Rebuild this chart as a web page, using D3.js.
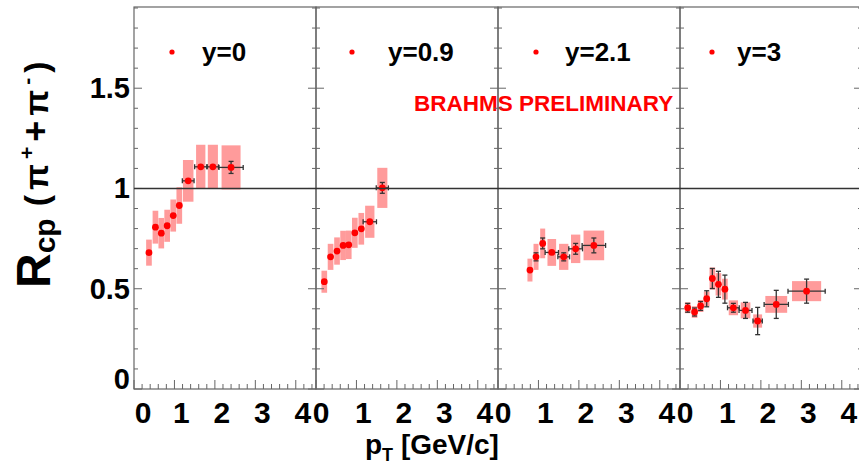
<!DOCTYPE html>
<html><head><meta charset="utf-8">
<script src="https://cdn.jsdelivr.net/npm/d3@7"></script>
<style>
body{margin:0;background:#fff}
svg{display:block}
text{font-family:"Liberation Sans",Arial,Helvetica,sans-serif;font-weight:bold}
</style>
</head><body>
<svg id="chart" width="859" height="466"></svg>
<script>
// ---------------- data ----------------
const panelLabels = ["y=0", "y=0.9", "y=2.1", "y=3"];
const xTickValues = [0, 1, 2, 3, 4];
const xTickLabels = ["0", "1", "2", "3", "4"];
const yTickValues = [0, 0.5, 1, 1.5];
const yTickLabels = ["0", "0.5", "1", "1.5"];

// y = 0
const pt_y0     = [0.37, 0.53, 0.675, 0.82, 0.97, 1.12, 1.34, 1.65, 1.95, 2.40];
const rcp_y0    = [0.680, 0.807, 0.777, 0.814, 0.865, 0.915, 1.038, 1.108, 1.108, 1.105];
const stat_y0   = [0.010, 0.010, 0.010, 0.010, 0.010, 0.010, 0.012, 0.015, 0.017, 0.030];
const ptErr_y0  = [0, 0, 0, 0, 0, 0, 0.145, 0.15, 0.14, 0.30];
const sys_y0    = [0.065, 0.082, 0.076, 0.080, 0.080, 0.091, 0.104, 0.110, 0.110, 0.110];
const sysW_y0   = [0.07, 0.07, 0.07, 0.07, 0.07, 0.07, 0.13, 0.115, 0.125, 0.235];

// y = 0.9
const pt_y09    = [0.205, 0.36, 0.52, 0.67, 0.81, 0.96, 1.12, 1.33, 1.64];
const rcp_y09   = [0.535, 0.659, 0.688, 0.716, 0.719, 0.779, 0.799, 0.834, 1.003];
const stat_y09  = [0.010, 0.010, 0.010, 0.010, 0.010, 0.010, 0.010, 0.012, 0.027];
const ptErr_y09 = [0, 0, 0, 0, 0, 0, 0, 0.165, 0.15];
const sys_y09   = [0.055, 0.065, 0.068, 0.073, 0.071, 0.075, 0.079, 0.080, 0.100];
const sysW_y09  = [0.07, 0.07, 0.07, 0.07, 0.07, 0.07, 0.07, 0.115, 0.125];

// y = 2.1
const pt_y21    = [0.79, 0.94, 1.105, 1.33, 1.625, 1.92, 2.37];
const rcp_y21   = [0.593, 0.659, 0.726, 0.681, 0.659, 0.699, 0.716];
const stat_y21  = [0.012, 0.020, 0.027, 0.012, 0.020, 0.027, 0.037];
const ptErr_y21 = [0, 0, 0, 0.165, 0.145, 0.17, 0.29];
const sys_y21   = [0.057, 0.065, 0.074, 0.067, 0.065, 0.071, 0.074];
const sysW_y21  = [0.062, 0.062, 0.062, 0.107, 0.115, 0.115, 0.255];

// y = 3
const pt_y3     = [0.19, 0.36, 0.51, 0.66, 0.80, 0.95, 1.11, 1.32, 1.62, 1.92, 2.38, 3.13];
const rcp_y3    = [0.405, 0.384, 0.414, 0.450, 0.551, 0.522, 0.498, 0.405, 0.392, 0.339, 0.422, 0.488];
const stat_y3   = [0.022, 0.020, 0.022, 0.040, 0.050, 0.065, 0.070, 0.022, 0.040, 0.068, 0.070, 0.060];
const ptErr_y3  = [0, 0, 0, 0, 0, 0, 0, 0.145, 0.16, 0.115, 0.30, 0.46];
const sys_y3    = [0.027, 0.029, 0.030, 0.036, 0.055, 0.056, 0.052, 0.037, 0.040, 0.033, 0.042, 0.050];
const sysW_y3   = [0.07, 0.07, 0.07, 0.07, 0.07, 0.07, 0.07, 0.115, 0.12, 0.11, 0.27, 0.36];

const series = [
  {pt: pt_y0,  v: rcp_y0,  s: stat_y0,  ex: ptErr_y0,  sys: sys_y0,  sw: sysW_y0},
  {pt: pt_y09, v: rcp_y09, s: stat_y09, ex: ptErr_y09, sys: sys_y09, sw: sysW_y09},
  {pt: pt_y21, v: rcp_y21, s: stat_y21, ex: ptErr_y21, sys: sys_y21, sw: sysW_y21},
  {pt: pt_y3,  v: rcp_y3,  s: stat_y3,  ex: ptErr_y3,  sys: sys_y3,  sw: sysW_y3}
];

// ---------------- layout ----------------
const svg = d3.select("#chart");
const left0 = 134, panelW = 182, topY = 7, botY = 389;
const yScale = d3.scaleLinear().domain([0, 1.9]).range([botY, 8]);
const legendDotX = [38, 36, 38, 32];
const legendTextX = [68, 72, 67, 57];
const frameColor = "#666";
const errColor = "#333";

const panelsG = svg.append("g");
const xScales = panelLabels.map((_, i) =>
  d3.scaleLinear().domain([0, 4.5]).range([left0 + i * panelW, left0 + (i + 1) * panelW]));

// data marks
series.forEach((d, i) => {
  const x = xScales[i];
  const g = panelsG.append("g");
  const idx = d3.range(d.pt.length);
  // systematic boxes
  g.selectAll("rect.sys").data(idx).join("rect")
    .attr("x", k => x(d.pt[k] - d.sw[k]))
    .attr("width", k => x(d.pt[k] + d.sw[k]) - x(d.pt[k] - d.sw[k]))
    .attr("y", k => yScale(d.v[k] + d.sys[k]))
    .attr("height", k => yScale(d.v[k] - d.sys[k]) - yScale(d.v[k] + d.sys[k]))
    .attr("fill", "#ff9b9b");
  // stat errors
  idx.forEach(k => {
    const cx = x(d.pt[k]);
    const y1 = yScale(d.v[k] + d.s[k]), y2 = yScale(d.v[k] - d.s[k]);
    if (y2 - y1 > 7) {
      g.append("line").attr("x1", cx).attr("x2", cx).attr("y1", y1).attr("y2", y2)
        .attr("stroke", errColor).attr("stroke-width", 1.3);
      [y1, y2].forEach(yy => g.append("line").attr("x1", cx - 2.5).attr("x2", cx + 2.5)
        .attr("y1", yy).attr("y2", yy).attr("stroke", errColor).attr("stroke-width", 1.3));
    }
    if (d.ex[k] > 0) {
      const x1 = x(d.pt[k] - d.ex[k]), x2 = x(d.pt[k] + d.ex[k]);
      const cy = yScale(d.v[k]);
      g.append("line").attr("x1", x1).attr("x2", x2).attr("y1", cy).attr("y2", cy)
        .attr("stroke", errColor).attr("stroke-width", 1.3);
      [x1, x2].forEach(xx => g.append("line").attr("x1", xx).attr("x2", xx)
        .attr("y1", cy - 2.5).attr("y2", cy + 2.5).attr("stroke", errColor).attr("stroke-width", 1.3));
    }
  });
  // markers
  g.selectAll("circle").data(idx).join("circle")
    .attr("cx", k => x(d.pt[k])).attr("cy", k => yScale(d.v[k]))
    .attr("r", 3.4).attr("fill", "#ff0000");
  // legend
  const x0 = left0 + i * panelW;
  g.append("circle").attr("cx", x0 + legendDotX[i]).attr("cy", 52).attr("r", 2.6).attr("fill", "#ff0000");
  g.append("text").attr("x", x0 + legendTextX[i]).attr("y", 60.5)
    .attr("font-size", 26).attr("fill", "#000").text(panelLabels[i]);
});

// preliminary label
svg.append("text").attr("x", 414).attr("y", 110.5).attr("font-size", 22.5)
  .attr("fill", "#ff0000").text("BRAHMS PRELIMINARY");

// frames + axes
panelLabels.forEach((_, i) => {
  const x = xScales[i];
  const g = svg.append("g");
  const xl = x.range()[0], xr = x.range()[1];
  d3.range(0, 1.901, 0.1).forEach(v => {
    const major = Math.abs(v * 2 - Math.round(v * 2)) < 1e-6;
    const len = major ? 8 : 4;
    const yy = yScale(v);
    g.append("line").attr("x1", xl).attr("x2", xl + len).attr("y1", yy).attr("y2", yy)
      .attr("stroke", frameColor).attr("stroke-width", 1);
    g.append("line").attr("x1", xr - len).attr("x2", xr).attr("y1", yy).attr("y2", yy)
      .attr("stroke", frameColor).attr("stroke-width", 1);
  });
  d3.range(0, 4.501, 0.2).forEach(v => {
    const major = Math.abs(v - Math.round(v)) < 1e-6;
    const len = major ? 9 : 5;
    const xx = x(v);
    g.append("line").attr("x1", xx).attr("x2", xx).attr("y1", botY).attr("y2", botY - len)
      .attr("stroke", frameColor).attr("stroke-width", 1);
  });
  g.append("rect").attr("x", xl).attr("y", topY).attr("width", xr - xl).attr("height", botY - topY)
    .attr("fill", "none").attr("stroke", frameColor).attr("stroke-width", 1.2);
  xTickValues.forEach((v, j) => {
    g.append("text").attr("x", x(v) + (v === 0 ? (i === 0 ? 9 : 5) : 7)).attr("y", 423)
      .attr("text-anchor", "middle").attr("font-size", 30).attr("fill", "#000").text(xTickLabels[j]);
  });
});

// y = 1 reference line
svg.append("line").attr("x1", left0).attr("x2", 859).attr("y1", yScale(1)).attr("y2", yScale(1))
  .attr("stroke", "#333").attr("stroke-width", 1.4);

// y tick labels
yTickValues.forEach((v, j) => {
  svg.append("text").attr("x", 130).attr("y", yScale(v) + 10 - (v === 0 ? 10 : 0))
    .attr("text-anchor", "end").attr("font-size", 29).attr("fill", "#000").text(yTickLabels[j]);
});

// y axis title
const yt = svg.append("text").attr("transform", "translate(50,288) rotate(-90)").attr("fill", "#000");
yt.append("tspan").attr("font-size", 48).text("R");
yt.append("tspan").attr("font-size", 30).attr("dy", 5).text("cp");
const grp = {"letter-spacing": 5};
yt.append("tspan").attr("font-size", 34).attr("dy", -7).attr("dx", 12).attr("letter-spacing", 5).text("(π");
yt.append("tspan").attr("font-size", 21).attr("dy", -14).attr("letter-spacing", 5).text("+");
yt.append("tspan").attr("font-size", 36).attr("dy", 14).attr("letter-spacing", 5).text("+");
yt.append("tspan").attr("font-size", 34).attr("letter-spacing", 5).text("π");
yt.append("tspan").attr("font-size", 21).attr("dy", -14).attr("letter-spacing", 5).text("-");
yt.append("tspan").attr("font-size", 34).attr("dy", 14).text(")");

// x axis title
const xt = svg.append("text").attr("x", 365).attr("y", 454).attr("fill", "#000");
xt.append("tspan").attr("font-size", 28).text("p");
xt.append("tspan").attr("font-size", 18).attr("dy", 7).text("T");
xt.append("tspan").attr("font-size", 28).attr("dy", -7).text(" [GeV/c]");
</script>
</body></html>
